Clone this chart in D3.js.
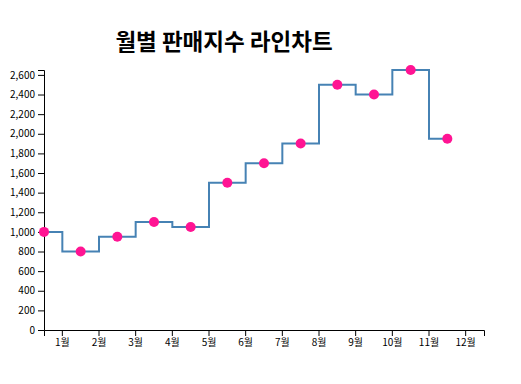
<!DOCTYPE html>
<html>
<head>
<meta charset="utf-8">
<script src="https://cdn.jsdelivr.net/npm/d3@7"></script>
<style>
	body { margin: 0; background: #fff; }
	text { font-family: "Noto Sans CJK KR", "Noto Sans", sans-serif; }
</style>
</head>
<body>
<div id="chart"></div>
<script>
// Data
const months = [1, 2, 3, 4, 5, 6, 7, 8, 9, 10, 11, 12]
const monthLabels = ["1월", "2월", "3월", "4월", "5월", "6월", "7월", "8월", "9월", "10월", "11월", "12월"]
const sales = [1000, 800, 950, 1100, 1050, 1500, 1700, 1900, 2500, 2400, 2650, 1950]

const dims = {
	width: 521,
	height: 384,
	margin: { top: 70, bottom: 54, left: 44, right: 37 }
}

const svg = d3.select("#chart")
	.append("svg")
	.attr("width", dims.width)
	.attr("height", dims.height)

const innerW = dims.width - dims.margin.left - dims.margin.right
const innerH = dims.height - dims.margin.top - dims.margin.bottom

const container = svg.append("g")
	.attr("transform", `translate(${dims.margin.left},${dims.margin.top})`)

// Scales
const xScale = d3.scaleBand()
	.domain(months)
	.range([0, innerW])

const yScale = d3.scaleLinear()
	.domain([0, d3.max(sales)])
	.range([innerH, 0])

// X axis (ticks sit in the band centre)
container.append("g")
	.attr("transform", `translate(0, ${innerH})`)
	.call(d3.axisBottom(xScale).tickFormat((d, i) => monthLabels[i]))
	.call(g => g.selectAll("text").attr("font-size", "10px"))

// Y axis
container.append("g")
	.call(d3.axisLeft(yScale).ticks(14))
	.call(g => g.selectAll("text").attr("font-size", "10px"))

// Step line
const points = months.map((m, i) => ({ month: m, value: sales[i] }))

const line = d3.line()
	.x(d => xScale(d.month))
	.y(d => yScale(d.value))
	.curve(d3.curveStep)

container.append("path")
	.datum(points)
	.attr("fill", "none")
	.attr("stroke", "steelblue")
	.attr("stroke-width", 2)
	.attr("d", line)

// Points
container.append("g").selectAll("circle")
	.data(points)
	.join("circle")
	.attr("cx", d => xScale(d.month))
	.attr("cy", d => yScale(d.value))
	.attr("r", 5)
	.attr("fill", "#ff1493")

// Title
svg.append("text")
	.attr("x", 224)
	.attr("y", 50)
	.attr("text-anchor", "middle")
	.attr("font-size", "22.5px")
	.attr("font-weight", "bold")
	.attr("fill", "black")
	.text("월별 판매지수 라인차트")
</script>
</body>
</html>
